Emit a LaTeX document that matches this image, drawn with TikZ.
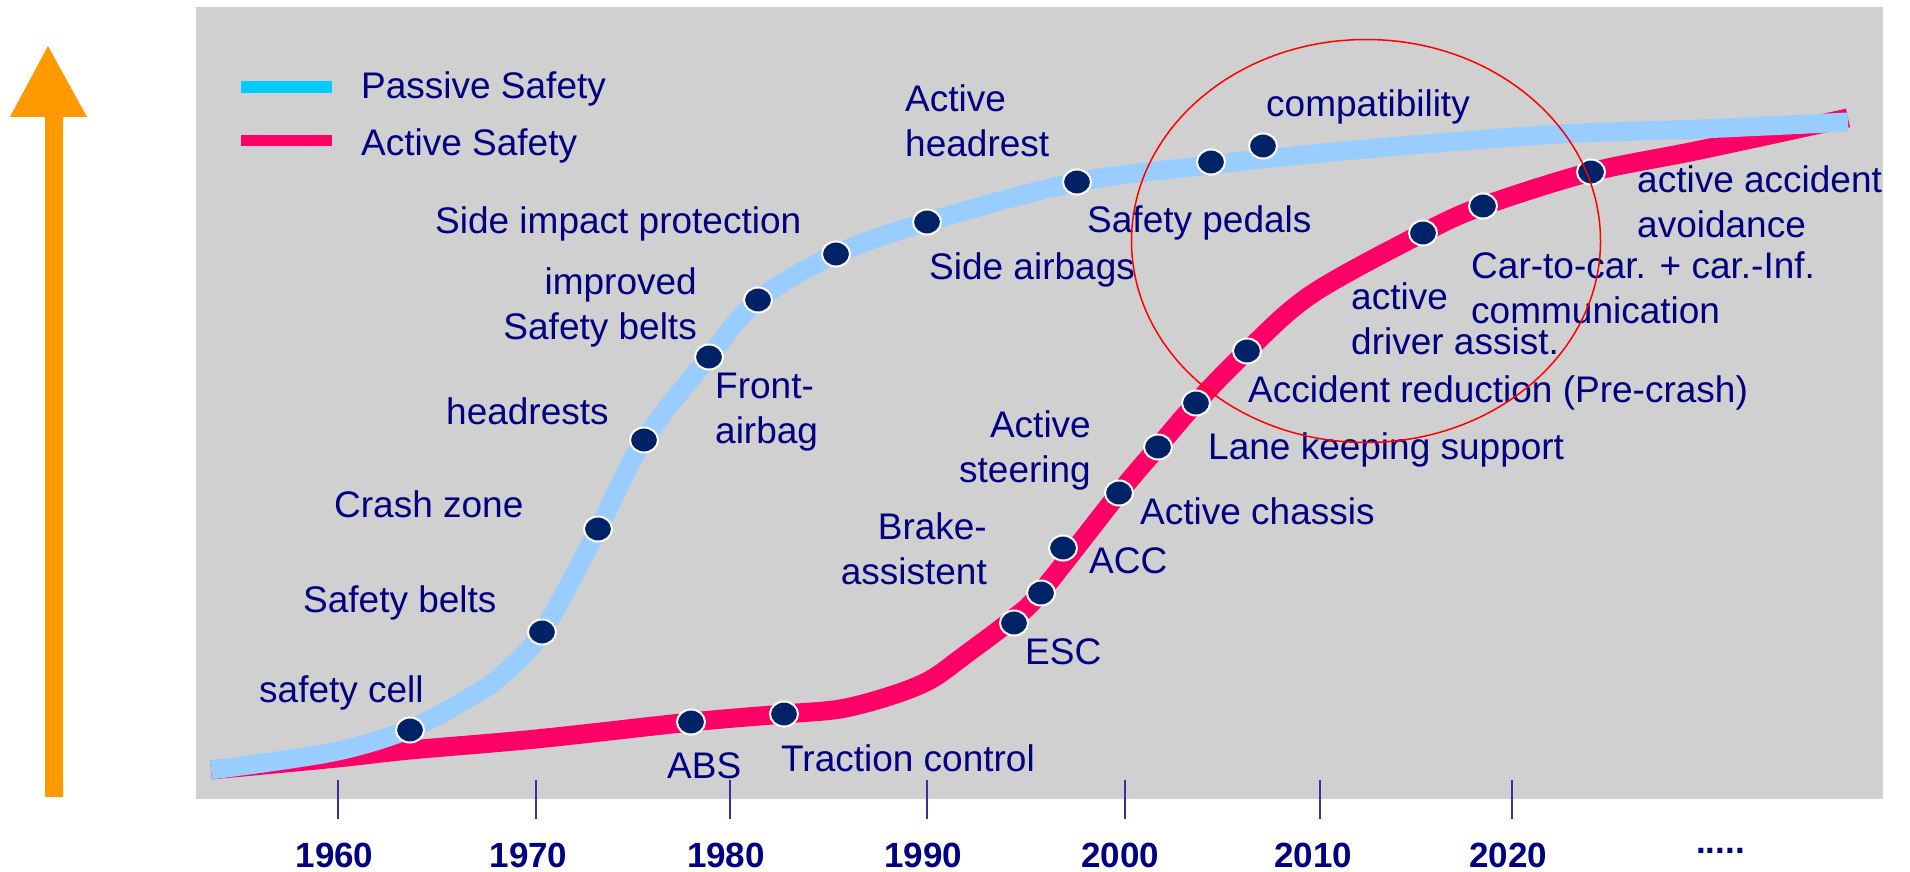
\documentclass[tikz,border=0pt]{standalone}
\usepackage{fontspec}
\setmainfont{Liberation Sans}
\usetikzlibrary{shapes.geometric}
\definecolor{bggray}{RGB}{208,208,208}
\definecolor{txtnavy}{RGB}{0,0,128}
\definecolor{dotnavy}{RGB}{0,34,102}
\definecolor{passblue}{RGB}{153,204,255}
\definecolor{legblue}{RGB}{0,204,255}
\definecolor{actpink}{RGB}{255,0,102}
\definecolor{arroworange}{RGB}{255,153,0}
\definecolor{tickblue}{RGB}{51,51,153}
\begin{document}
\begin{tikzpicture}[x=1pt,y=-1pt,
  lbl/.style={font=\fontsize{37}{45}\selectfont, text=txtnavy, inner sep=0pt, anchor=base west},
  lblr/.style={lbl, anchor=base east, align=right},
  lbll/.style={lbl, align=left},
  year/.style={font=\fontsize{35}{40}\selectfont\bfseries, text=txtnavy, inner sep=0pt, anchor=base},
  dot/.style={ellipse, fill=dotnavy, draw=white, line width=2pt, minimum width=28pt, minimum height=25pt, inner sep=0pt},
  curvepass/.style={passblue, line width=19pt},
  curveact/.style={actpink, line width=19pt},
  tickline/.style={tickblue, line width=2pt}]
\useasboundingbox (0,0) rectangle (1910,872);
\fill[white] (0,0) rectangle (1910,872);
% background panel
\fill[bggray] (196,7) rectangle (1883,799);
% orange arrow
\fill[arroworange] (45,797) -- (45,117) -- (10,117) -- (48,46) -- (87,117) -- (63,117) -- (63,797) -- cycle;
% year ticks
\foreach \x in {337.5,535.7,730,927,1124.6,1319.6,1511.6}
  \draw[tickline] (\x,780) -- (\x,819);
% year labels
\node[year] (y1960) at (334.5,867) {1960};
\node[year] (y1970) at (528.5,867) {1970};
\node[year] (y1980) at (726,867) {1980};
\node[year] (y1990) at (923,867) {1990};
\node[year] (y2000) at (1120,867) {2000};
\node[year] (y2010) at (1313,867) {2010};
\node[year] (y2020) at (1508,867) {2020};
\node[year, anchor=base west] (ydots) at (1696,853) {.....};
% legend
\draw[legblue, line width=12pt] (241,87) -- (332,87);
\draw[actpink, line width=11pt] (241,140) -- (332,140);
\node[lbl] (lpass) at (361,99) {Passive Safety};
\node[lbl] (lact) at (361,155) {Active Safety};
% active safety curve
\draw[curveact] plot[smooth, tension=0.55] coordinates {(211,770) (337,758) (410,750) (536,739) (691,722) (784,714) (840,709) (890,696) (930,680) (965,655) (1014,618) (1041,592) (1119,493) (1158,447) (1196,403) (1247,351) (1312,294) (1423,233) (1483,206) (1591,172) (1700,150) (1848,118)};
% passive safety curve
\draw[curvepass] plot[smooth, tension=0.55] coordinates {(211,770) (333,752) (410,729) (467,699) (500,677) (542,632) (598,529) (644,440) (709,357) (758,300) (836,254) (927,222) (1077,182) (1211,165) (1263,159) (1400,146) (1561,134) (1700,129) (1848,122)};
% passive dots
\node[dot] (p1) at (410,730) {};
\node[dot] (p2) at (542,632) {};
\node[dot] (p3) at (598,529) {};
\node[dot] (p4) at (644,440) {};
\node[dot] (p5) at (709,357) {};
\node[dot] (p6) at (758,300) {};
\node[dot] (p7) at (836,254) {};
\node[dot] (p8) at (927,222) {};
\node[dot] (p9) at (1077,182) {};
\node[dot] (p10) at (1211,162) {};
\node[dot] (p11) at (1263,146) {};
% active dots
\node[dot] (a1) at (691,722) {};
\node[dot] (a2) at (784,714) {};
\node[dot] (a3) at (1014,623) {};
\node[dot] (a4) at (1041,593) {};
\node[dot] (a5) at (1063,548) {};
\node[dot] (a6) at (1119,493) {};
\node[dot] (a7) at (1158,447) {};
\node[dot] (a8) at (1196,403) {};
\node[dot] (a9) at (1247,351) {};
\node[dot] (a10) at (1423,233) {};
\node[dot] (a11) at (1483,206) {};
\node[dot] (a12) at (1591,172) {};
% passive labels (multi-line nodes are anchored at their last baseline)
\node[lbl] (tcell) at (259,702) {safety cell};
\node[lbl] (tbelts) at (303,612) {Safety belts};
\node[lbl] (tcrash) at (334,517) {Crash zone};
\node[lbl] (theadr) at (446,424) {headrests};
\node[lblr] (timpr) at (697,339) {improved\\Safety belts};
\node[lbll] (tfront) at (715,443) {Front-\\airbag};
\node[lbl] (tside) at (435,233) {Side impact protection};
\node[lbl] (tsideab) at (929,279) {Side airbags};
\node[lbll] (tacthead) at (905,157) {Active\\headrest};
\node[lbl] (tpedal) at (1087,232) {Safety pedals};
\node[lbl] (tcompat) at (1266,117) {compatibility};
% active labels
\node[lbl] (tabs) at (667,778) {ABS};
\node[lbl] (ttract) at (781,771) {Traction control};
\node[lbl] (tesc) at (1025,664) {ESC};
\node[lblr] (tbrake) at (987,584) {Brake-\\assistent};
\node[lbl] (tacc) at (1089,573) {ACC};
\node[lbl] (tchassis) at (1140,524) {Active chassis};
\node[lblr] (tsteer) at (1091,482) {Active\\steering};
\node[lbl] (tlane) at (1208,459) {Lane keeping support};
\node[lbl] (tacred) at (1248,402) {Accident reduction (Pre-crash)};
\node[lbll] (tdrv) at (1351,354) {active\\driver assist.};
\node[lbll] (tc2c) at (1471,323) {Car-to-car. + car.-Inf.\\communication};
\node[lbll] (tavoid) at (1637,237) {active accident\\avoidance};
% red highlight ellipse
\node[draw=red, line width=1.5pt, ellipse, minimum width=469pt, minimum height=403pt, inner sep=0pt] (ring) at (1366,241) {};
\end{tikzpicture}
\end{document}
